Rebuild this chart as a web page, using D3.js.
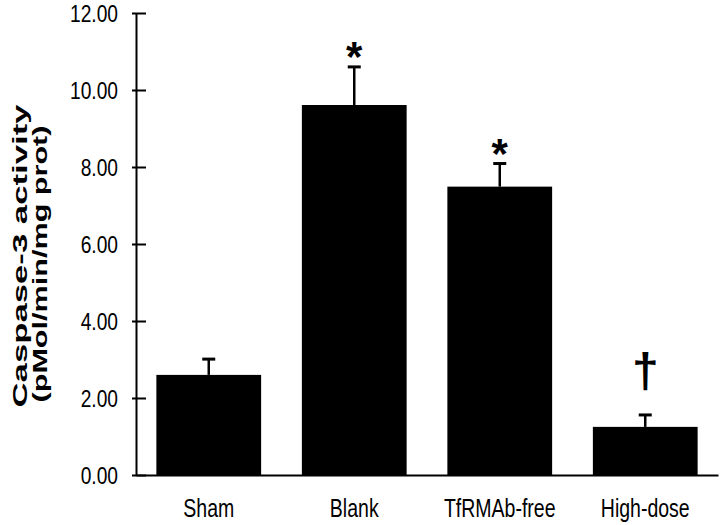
<!DOCTYPE html>
<html>
<head>
<meta charset="utf-8">
<script src="https://cdn.jsdelivr.net/npm/d3@7"></script>
<style>
  body { margin: 0; background: #fff; }
  text { font-family: "Liberation Sans", Arial, sans-serif; }
</style>
</head>
<body>
<div id="visContainer"></div>
<script>
const groups = ["Sham", "Blank", "TfRMAb-free", "High-dose"];
const means = [2.6, 9.61, 7.49, 1.25];
const errors = [0.41, 0.99, 0.6, 0.31];
const marks = ["", "*", "*", "\u2020"];
const yTicks = [0, 2, 4, 6, 8, 10, 12];
const titleLines = ["Caspase-3 activity", "(pMol/min/mg prot)"];

// squeeze text horizontally, the source figure is a bit narrow
function squeeze(sel, k) {
    sel.each(function () {
        const len = this.getComputedTextLength();
        d3.select(this).attr("textLength", len * k).attr("lengthAdjust", "spacingAndGlyphs");
    });
}

function renderVisualisation() {
    const width = 720;
    const height = 525;

    const svg = d3.select("#visContainer").append("svg")
        .attr("width", width)
        .attr("height", height)
        .style("display", "block");

    const x = d3.scaleBand()
        .domain(groups)
        .range([136, 718])
        .paddingInner(0.28)
        .paddingOuter(0.14);

    const y = d3.scaleLinear()
        .domain([0, 12])
        .range([475, 13]);

    const data = groups.map((g, i) => ({ group: g, mean: means[i], err: errors[i], mark: marks[i] }));

    // bars
    svg.append("g")
        .selectAll("rect")
        .data(data)
        .join("rect")
        .attr("x", d => x(d.group))
        .attr("y", d => y(d.mean))
        .attr("width", x.bandwidth())
        .attr("height", d => y(0) - y(d.mean))
        .attr("fill", "black");

    // error bars (upper only)
    const err = svg.append("g").attr("stroke", "black");
    err.selectAll("line.stem")
        .data(data)
        .join("line")
        .attr("class", "stem")
        .attr("x1", d => x(d.group) + x.bandwidth() / 2)
        .attr("x2", d => x(d.group) + x.bandwidth() / 2)
        .attr("y1", d => y(d.mean))
        .attr("y2", d => y(d.mean + d.err))
        .attr("stroke-width", 2.5);
    err.selectAll("line.cap")
        .data(data)
        .join("line")
        .attr("class", "cap")
        .attr("x1", d => x(d.group) + x.bandwidth() / 2 - 6.5)
        .attr("x2", d => x(d.group) + x.bandwidth() / 2 + 6.5)
        .attr("y1", d => y(d.mean + d.err))
        .attr("y2", d => y(d.mean + d.err))
        .attr("stroke-width", 3);

    // significance marks
    svg.append("g")
        .attr("text-anchor", "middle")
        .selectAll("text")
        .data(data.filter(d => d.mark))
        .join("text")
        .attr("x", d => x(d.group) + x.bandwidth() / 2)
        .attr("y", d => d.mark === "*" ? y(d.mean + d.err) + 4 : y(d.mean + d.err) - 28)
        .attr("font-size", d => d.mark === "*" ? 42 : 48)
        .attr("font-weight", "bold")
        .text(d => d.mark);

    // y axis
    const yAxis = svg.append("g")
        .attr("transform", "translate(136,0)")
        .call(d3.axisLeft(y)
            .tickValues(yTicks)
            .tickFormat(d3.format(".2f"))
            .tickSizeInner(4)
            .tickSizeOuter(0)
            .tickPadding(14));
    yAxis.select(".domain").attr("stroke-width", 2);
    yAxis.selectAll(".tick line").attr("x1", 10).attr("stroke-width", 2);
    yAxis.selectAll(".tick text")
        .attr("font-size", 24)
        .attr("font-family", null)
        .attr("fill", "black")
        .attr("dy", "0.36em")
        .call(squeeze, 0.8);

    // x axis
    const xAxis = svg.append("g")
        .attr("transform", "translate(0,475)")
        .call(d3.axisBottom(x).tickSize(0).tickPadding(24));
    xAxis.select(".domain").attr("stroke-width", 2);
    xAxis.selectAll(".tick text")
        .attr("font-size", 25)
        .attr("font-family", null)
        .attr("fill", "black")
        .call(squeeze, 0.78);

    // y title, two lines
    svg.append("g")
        .selectAll("text")
        .data(titleLines)
        .join("text")
        .attr("transform", (d, i) => `translate(${i === 0 ? 27 : 47},${i === 0 ? 256 : 264}) rotate(-90) scale(1,0.88)`)
        .attr("text-anchor", "middle")
        .attr("font-size", 24)
        .attr("font-weight", "bold")
        .attr("textLength", (d, i) => i === 0 ? 303 : 277)
        .attr("lengthAdjust", "spacingAndGlyphs")
        .text(d => d);
}

renderVisualisation();
</script>
</body>
</html>
